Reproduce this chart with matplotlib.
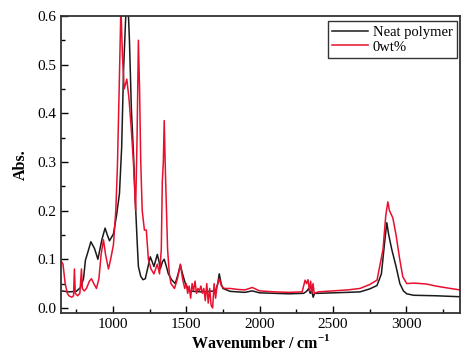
import matplotlib
matplotlib.use("Agg")
import matplotlib.pyplot as plt
from matplotlib.ticker import MultipleLocator

plt.rcParams['font.family'] = ['Liberation Serif', 'DejaVu Serif']
plt.rcParams['mathtext.fontset'] = 'custom'
plt.rcParams['mathtext.rm'] = 'Liberation Serif:bold'
plt.rcParams['mathtext.bf'] = 'Liberation Serif:bold'

# --- Neat polymer ---
neat_wn = [650, 700, 750, 780, 800, 813, 835, 850, 875, 898, 925, 947, 962, 977, 1004,
           1025, 1045, 1060, 1073, 1088, 1100, 1113, 1126, 1140, 1153, 1165, 1174, 1190,
           1205, 1221, 1240, 1255, 1268, 1280, 1303, 1315, 1323, 1338, 1350, 1365, 1378,
           1400, 1425, 1445, 1460, 1475, 1494, 1520, 1550, 1600, 1650, 1700, 1715, 1725,
           1738, 1750, 1800, 1900, 1950, 2000, 2100, 2200, 2300, 2320, 2335, 2345, 2355,
           2365, 2375, 2400, 2500, 2600, 2684, 2750, 2800, 2830, 2854, 2867, 2880, 2901,
           2930, 2956, 2980, 3003, 3050, 3200, 3365]
neat_abs = [0.035, 0.033, 0.034, 0.042, 0.06, 0.098, 0.12, 0.136, 0.122, 0.1, 0.14, 0.164,
            0.15, 0.138, 0.152, 0.19, 0.235, 0.33, 0.49, 0.6, 0.65, 0.55, 0.41, 0.32, 0.22,
            0.14, 0.085, 0.065, 0.058, 0.06, 0.085, 0.105, 0.095, 0.085, 0.11, 0.095, 0.08,
            0.095, 0.1, 0.085, 0.07, 0.058, 0.05, 0.07, 0.088, 0.07, 0.05, 0.035, 0.034,
            0.033, 0.034, 0.035, 0.05, 0.07, 0.05, 0.04, 0.034, 0.032, 0.035, 0.031, 0.03,
            0.029, 0.03, 0.034, 0.04, 0.03, 0.036, 0.022, 0.03, 0.03, 0.031, 0.032, 0.033,
            0.039, 0.046, 0.07, 0.14, 0.175, 0.15, 0.12, 0.085, 0.05, 0.035, 0.029, 0.026,
            0.025, 0.023]

# --- 0wt% ---
red_wn = [650, 660, 675, 690, 700, 720, 732, 738, 744, 760, 775, 786, 792, 805, 820, 840,
          854, 870, 888, 905, 920, 936, 950, 970, 985, 1004, 1020, 1031, 1043, 1055, 1065,
          1077, 1095, 1110, 1125, 1140, 1155, 1165, 1174, 1182, 1190, 1200, 1215, 1228,
          1242, 1260, 1280, 1303, 1318, 1330, 1337, 1344, 1350, 1358, 1373, 1385, 1396,
          1420, 1440, 1460, 1475, 1490, 1500, 1510, 1520, 1530, 1540, 1550, 1560, 1570,
          1580, 1590, 1600, 1610, 1620, 1630, 1640, 1650, 1660, 1670, 1680, 1690, 1700,
          1710, 1725, 1740, 1760, 1800, 1850, 1900, 1950, 2000, 2100, 2200, 2290, 2300,
          2310, 2320, 2330, 2340, 2348, 2356, 2364, 2372, 2400, 2500, 2600, 2684, 2750,
          2800, 2841, 2860, 2874, 2885, 2908, 2930, 2955, 2976, 3003, 3050, 3100, 3140,
          3200, 3300, 3365]
red_abs = [0.095, 0.09, 0.05, 0.03, 0.025, 0.022, 0.025, 0.08, 0.03, 0.025, 0.03, 0.08,
           0.04, 0.035, 0.04, 0.055, 0.06, 0.05, 0.04, 0.06, 0.11, 0.14, 0.11, 0.08, 0.1,
           0.13, 0.2, 0.29, 0.45, 0.62, 0.52, 0.45, 0.47, 0.43, 0.37, 0.3, 0.2, 0.35, 0.55,
           0.45, 0.3, 0.2, 0.16, 0.16, 0.1, 0.08, 0.07, 0.09, 0.07, 0.12, 0.26, 0.3, 0.385,
           0.28, 0.12, 0.07, 0.05, 0.04, 0.06, 0.09, 0.06, 0.04, 0.05, 0.03, 0.045, 0.02,
           0.05, 0.035, 0.055, 0.03, 0.04, 0.035, 0.045, 0.03, 0.04, 0.015, 0.05, 0.01,
           0.04, 0.005, 0.0, 0.05, 0.02, 0.045, 0.06, 0.045, 0.04, 0.04, 0.038, 0.037,
           0.042, 0.035, 0.033, 0.032, 0.033, 0.045, 0.057, 0.05, 0.058, 0.035, 0.055, 0.03,
           0.05, 0.03, 0.033, 0.035, 0.037, 0.04, 0.048, 0.057, 0.12, 0.19, 0.218, 0.2,
           0.185, 0.15, 0.1, 0.064, 0.05, 0.051, 0.05, 0.049, 0.045, 0.04, 0.037]

fig = plt.figure(figsize=(4.65, 3.54), dpi=100)
ax = fig.add_axes([0.131, 0.116, 0.858, 0.839])

ax.plot(neat_wn, neat_abs, color='#1a1a1a', lw=1.1, label='Neat polymer')
ax.plot(red_wn, red_abs, color='#e8102e', lw=1.1, label='0wt%')

ax.set_xlim(646, 3365)
ax.set_ylim(-0.0103, 0.6)
ax.xaxis.set_major_locator(MultipleLocator(500))
ax.xaxis.set_minor_locator(MultipleLocator(250))
ax.yaxis.set_major_locator(MultipleLocator(0.1))
ax.yaxis.set_minor_locator(MultipleLocator(0.05))
ax.tick_params(which='both', direction='in', labelsize=11, width=1)
ax.tick_params(which='major', length=5)
ax.tick_params(which='minor', length=3)
ax.yaxis.set_major_formatter(plt.FuncFormatter(lambda v, p: f"{v:.1f}"))

for s in ax.spines.values():
    s.set_linewidth(1.3)
    s.set_color('#333333')

ax.set_xlabel(r'Wavenumber / cm$^{-1}$', fontsize=11.5, fontweight='bold', labelpad=2)
ax.set_ylabel('Abs.', fontsize=11.5, fontweight='bold', labelpad=6)

leg = ax.legend(loc='upper right', bbox_to_anchor=(0.993, 0.982), borderaxespad=0,
                fontsize=10.5, handlelength=2.5, handletextpad=0.3, labelspacing=0.1,
                borderpad=0.3, fancybox=False, framealpha=1)
leg.get_frame().set_edgecolor('#333333')
leg.get_frame().set_linewidth(1)

fig.savefig('out.png', dpi=100)
